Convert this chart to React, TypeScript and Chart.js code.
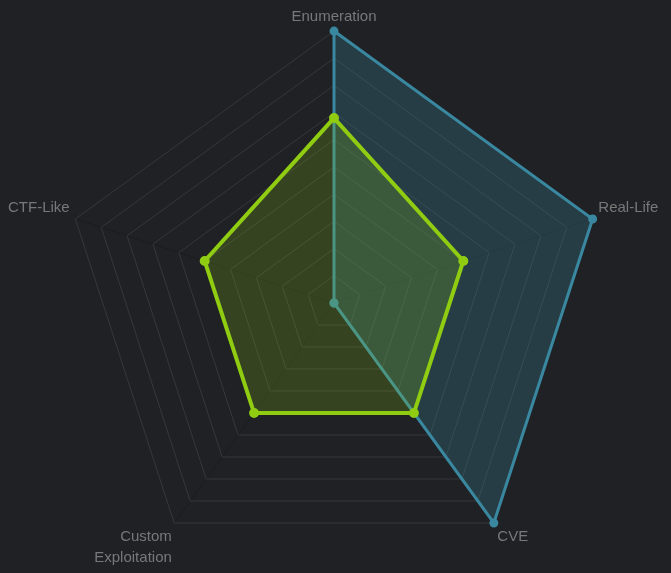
import React, { useEffect, useRef } from "react";
import { Chart, registerables } from "chart.js";

Chart.register(...registerables);

const labels: (string | string[])[] = ["Enumeration", "Real-Life", "CVE", ["Custom", "Exploitation"], "CTF-Like"];
const blueValues = [100, 100, 100, 0, 0];
const greenValues = [68, 50, 50, 50, 50];

export default function App() {
  const ref = useRef<HTMLCanvasElement | null>(null);
  useEffect(() => {
    document.body.style.background = "#1f2125";
    const chart = new Chart(ref.current!, {
      type: "radar",
      data: {
        labels,
        datasets: [
          {
            data: blueValues,
            order: 2,
            borderColor: "rgba(58,136,160,1)",
            backgroundColor: "rgba(58,136,160,0.27)",
            pointBackgroundColor: "rgba(58,136,160,1)",
            pointBorderColor: "rgba(58,136,160,1)",
            borderWidth: 3,
            pointRadius: 3,
          },
          {
            data: greenValues,
            order: 1,
            borderColor: "#8fcc12",
            backgroundColor: "rgba(143,204,18,0.2)",
            pointBackgroundColor: "#8fcc12",
            pointBorderColor: "#8fcc12",
            borderWidth: 4,
            pointRadius: 3,
          },
        ],
      },
      options: {
        animation: false,
        responsive: true,
        maintainAspectRatio: false,
        layout: { padding: { top: 0, bottom: 0, left: 0, right: 3 } },
        plugins: { legend: { display: false }, tooltip: { enabled: false } },
        scales: {
          r: {
            min: 0,
            max: 100,
            ticks: { display: false, stepSize: 10 },
            grid: { color: "rgba(255,255,255,0.1)" },
            angleLines: { color: "rgba(0,0,0,0.15)" },
            pointLabels: {
              color: "#787878",
              padding: (ctx: any) => (ctx.index === 0 ? 5 : ctx.index === 3 ? 4 : 6),
              font: (ctx: any) => ({
                size: 15,
                lineHeight: ctx.index === 3 ? 1.42 : 1.2,
                family: "'Liberation Sans', Arial, sans-serif",
              }),
            },
          },
        },
      },
    });
    return () => chart.destroy();
  }, []);
  return (
    <div style={{ width: 655, height: 557, overflow: "hidden" }}>
      <div style={{ position: "relative", top: -11, width: 655, height: 590 }}>
        <canvas ref={ref} />
      </div>
    </div>
  );
}
